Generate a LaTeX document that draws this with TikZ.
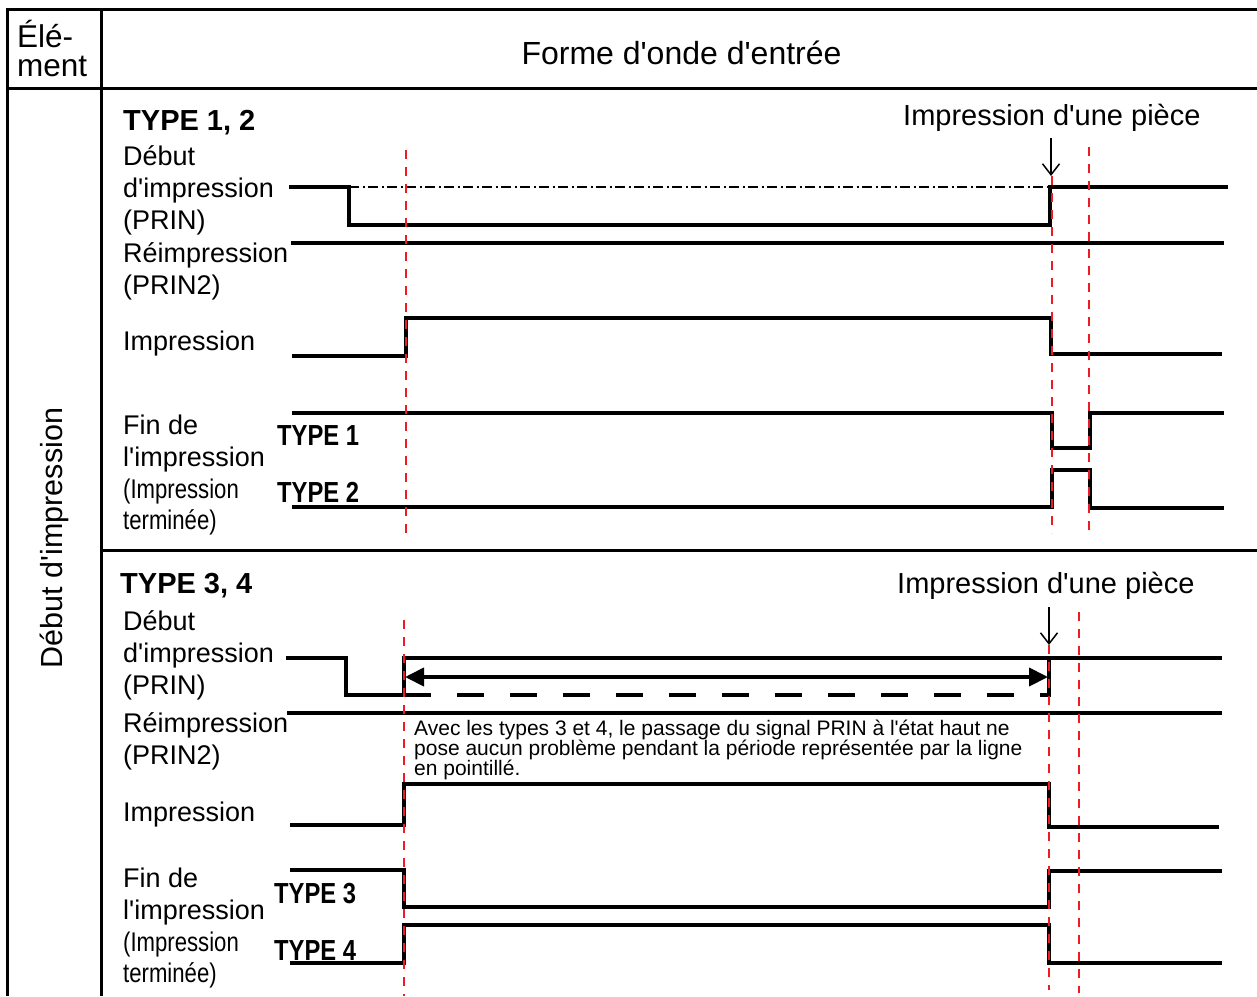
\documentclass[tikz,border=0pt]{standalone}
\usepackage{fontspec}
\setmainfont{Liberation Sans}[Ligatures=TeXOff]
\usepackage{graphicx}
\usetikzlibrary{arrows.meta}
\definecolor{rd}{RGB}{237,28,36}
\newcommand\nrw[1]{\scalebox{0.82}[1]{#1}}
\begin{document}
\begin{tikzpicture}[x=1pt,y=-1pt,
  lbl/.style={anchor=base west,inner sep=0pt,font=\fontsize{27}{32}\selectfont},
  ttl/.style={anchor=base west,inner sep=0pt,font=\fontsize{29}{34}\selectfont\bfseries},
  typ/.style={anchor=base west,inner sep=0pt,font=\fontsize{29}{34}\selectfont\bfseries},
  hdr/.style={inner sep=0pt,font=\fontsize{31.5}{36}\selectfont},
  pc/.style={anchor=base west,inner sep=0pt,font=\fontsize{29}{34}\selectfont},
  note/.style={anchor=base west,inner sep=0pt,font=\fontsize{21}{21}\selectfont},
  grid/.style={line width=3pt},
  wave/.style={line width=4pt,line join=miter},
  reddash/.style={draw=rd,line width=2.8pt,dash pattern=on 9pt off 8pt},
  dashdot/.style={line width=1.5pt,dash pattern=on 10pt off 3.5pt on 2pt off 3.5pt},
  bigdash/.style={line width=4pt,dash pattern=on 27pt off 26pt},
  marker/.style={line width=1.5pt,-{Straight Barb[length=11pt,width=17pt]}},
  span/.style={line width=4pt,{Triangle[length=19pt,width=18pt]}-{Triangle[length=19pt,width=18pt]}}
]
\useasboundingbox (0,0) rectangle (1257,996);
% table frame
\draw[grid] (6.5,9.5) -- (1257,9.5);
\draw[grid] (7.5,8) -- (7.5,996);
\draw[grid] (101.5,8) -- (101.5,996);
\draw[grid] (6,88) -- (1257,88);
\draw[grid] (101.5,550.5) -- (1257,550.5);
% header
\node[hdr,anchor=base west] (el1) at (17,47) {Élé-};
\node[hdr,anchor=base west] (el2) at (17,76) {ment};
\node[hdr,anchor=base,font=\fontsize{32}{36}\selectfont] (forme) at (681.5,64) {Forme d'onde d'entrée};
\node[inner sep=0pt,font=\fontsize{30.5}{34}\selectfont,rotate=90,anchor=base] (debut) at (62,538) {Début d'impression};

% ===== Section TYPE 1, 2 =====
\node[ttl] (t12) at (123,130) {TYPE 1, 2};
\node[pc] (pc1) at (903,125) {Impression d'une pièce};
\node[lbl] (a1) at (123,165) {Début};
\node[lbl] (a2) at (123,197) {d'impression};
\node[lbl] (a3) at (123,229) {(PRIN)};
\node[lbl] (b1) at (123,262) {Réimpression};
\node[lbl] (b2) at (123,294) {(PRIN2)};
\node[lbl] (c1) at (123,350) {Impression};
\node[lbl] (d1) at (123,434) {Fin de};
\node[lbl] (d2) at (123,466) {l'impression};
\node[lbl] (d3) at (123,498) {\nrw{(Impression}};
\node[lbl] (d4) at (123,529) {\nrw{terminée)}};
\node[typ] (ty1) at (277,445) {\nrw{TYPE 1}};
\node[typ] (ty2) at (277,502) {\nrw{TYPE 2}};

\draw[dashdot] (349,187) -- (1050,187);
\draw[wave] (289,187) -- (349,187) -- (349,225) -- (1050,225) -- (1050,187) -- (1228,187);
\draw[wave] (291,243) -- (1224,243);
\draw[wave] (292,356) -- (406,356) -- (406,318) -- (1051,318) -- (1051,354) -- (1222,354);
\draw[wave] (292,413) -- (1052,413) -- (1052,448) -- (1090,448) -- (1090,413) -- (1224,413);
\draw[wave] (292,507) -- (1052,507) -- (1052,470) -- (1090,470) -- (1090,508) -- (1224,508);

\coordinate (m1s) at (1051,138);
\coordinate (m1e) at (1051,176);
\draw[marker] (m1s) -- (m1e);

\draw[reddash] (406,150) -- (406,533);
\draw[reddash] (1052,176) -- (1052,533);
\draw[reddash] (1089,147) -- (1089,533);

% ===== Section TYPE 3, 4 =====
\node[ttl] (t34) at (120,593) {TYPE 3, 4};
\node[pc] (pc2) at (897,593) {Impression d'une pièce};
\node[lbl] (e1) at (123,630) {Début};
\node[lbl] (e2) at (123,662) {d'impression};
\node[lbl] (e3) at (123,694) {(PRIN)};
\node[lbl] (f1) at (123,732) {Réimpression};
\node[lbl] (f2) at (123,764) {(PRIN2)};
\node[lbl] (g1) at (123,821) {Impression};
\node[lbl] (h1) at (123,887) {Fin de};
\node[lbl] (h2) at (123,919) {l'impression};
\node[lbl] (h3) at (123,951) {\nrw{(Impression}};
\node[lbl] (h4) at (123,982) {\nrw{terminée)}};
\node[typ] (ty3) at (274,903) {\nrw{TYPE 3}};
\node[typ] (ty4) at (274,960) {\nrw{TYPE 4}};
\node[note] (n1) at (414,735) {Avec les types 3 et 4, le passage du signal PRIN à l'état haut ne};
\node[note] (n2) at (414,755) {pose aucun problème pendant la période représentée par la ligne};
\node[note] (n3) at (414,775) {en pointillé.};

\draw[wave] (286,658) -- (346,658) -- (346,695) -- (404,695) -- (404,658) -- (1222,658);
\draw[wave] (1049,658) -- (1049,697);
\draw[bigdash] (404,695) -- (1049,695);
\coordinate (sp1) at (405,677);
\coordinate (sp2) at (1048,677);
\draw[span] (sp1) -- (sp2);
\draw[wave] (287,713) -- (1222,713);
\draw[wave] (290,825) -- (404,825) -- (404,784) -- (1049,784) -- (1049,827) -- (1219,827);
\draw[wave] (290,870) -- (404,870) -- (404,907) -- (1049,907) -- (1049,871) -- (1222,871);
\draw[wave] (290,963) -- (404,963) -- (404,925) -- (1049,925) -- (1049,963) -- (1222,963);

\coordinate (m2s) at (1049,607);
\coordinate (m2e) at (1049,645);
\draw[marker] (m2s) -- (m2e);

\draw[reddash] (404,620) -- (404,996);
\draw[reddash] (1049,645) -- (1049,990);
\draw[reddash] (1079,612) -- (1079,993);
\end{tikzpicture}
\end{document}
